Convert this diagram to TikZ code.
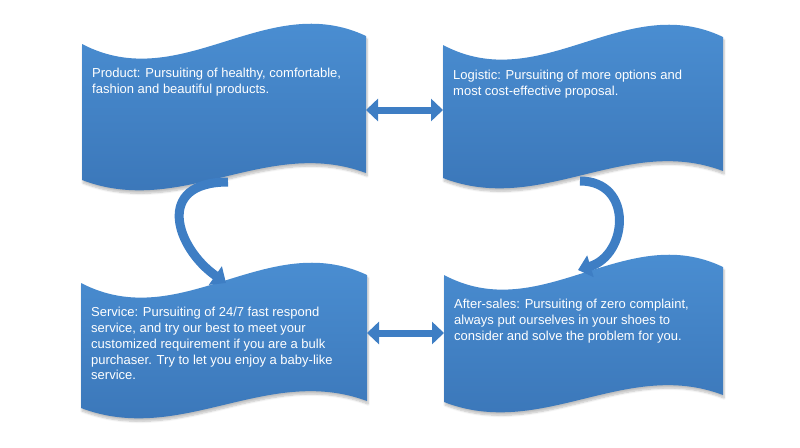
\documentclass[tikz,border=0pt]{standalone}
\usepackage{fontspec}
\setmainfont{Liberation Sans}
\usetikzlibrary{positioning,calc,arrows.meta,shadows.blur}

\definecolor{paneltop}{RGB}{77,146,214}
\definecolor{panelbottom}{RGB}{57,116,182}
\definecolor{arrowblue}{RGB}{62,126,196}

% wave outline around a (blank) panel node
\newcommand{\wavepanel}[1]{%
  \path[panelfill] (#1.north west)
    .. controls ([yshift=-52pt]$(#1.north west)!.35!(#1.north east)$) and ([yshift=55pt]$(#1.north west)!.65!(#1.north east)$) .. ([yshift=8pt]#1.north east)
    -- ([yshift=7pt]#1.south east)
    .. controls ([yshift=44pt]$(#1.south west)!.65!(#1.south east)$) and ([yshift=-38pt]$(#1.south west)!.35!(#1.south east)$) .. (#1.south west)
    -- cycle;}

\begin{document}
\begin{tikzpicture}[
    x=1pt, y=-1pt,
    panel/.style={rectangle, inner sep=0pt, outer sep=0pt},
    panelfill/.style={top color=paneltop, bottom color=panelbottom, blur shadow={shadow xshift=1pt, shadow yshift=-3pt, shadow opacity=25, shadow blur steps=6}},
    paneltext/.style={text=white, font=\fontsize{13}{15.8}\selectfont, align=left, inner sep=0pt},
    dblarrow/.style={draw=arrowblue, line width=7pt, {Triangle[width=22pt,length=12pt]}-{Triangle[width=22pt,length=12pt]}},
    arcarrow/.style={draw=arrowblue, line width=9pt, -{Triangle[width=22pt,length=13pt]}}
]
\useasboundingbox (0,0) rectangle (800,447);

% Panels
\node[panel, minimum width=284pt, minimum height=136pt] (product) at (224,112) {};
\node[panel, minimum width=280pt, minimum height=133pt] (logistic) at (583,111.5) {};
\node[panel, minimum width=286pt, minimum height=125pt] (service) at (224,345.5) {};
\node[panel, minimum width=279pt, minimum height=127pt] (aftersales) at (583.5,338.5) {};

\wavepanel{product}
\wavepanel{logistic}
\wavepanel{service}
\wavepanel{aftersales}

% Texts
\node[paneltext, below right=24pt and 10pt of product.north west] (producttext)
  {Product: Pursuiting of healthy, comfortable,\\fashion and beautiful products.};
\node[paneltext, below right=25pt and 10pt of logistic.north west] (logistictext)
  {Logistic: Pursuiting of more options and\\most cost-effective proposal.};
\node[paneltext, below right=24pt and 10pt of service.north west] (servicetext)
  {Service: Pursuiting of 24/7 fast respond\\service, and try our best to meet your\\customized requirement if you are a bulk\\purchaser. Try to let you enjoy a baby-like\\service.};
\node[paneltext, below right=24pt and 10pt of aftersales.north west] (aftersalestext)
  {After-sales: Pursuiting of zero complaint,\\always put ourselves in your shoes to\\consider and solve the problem for you.};

% Arrows
\draw[dblarrow] ([yshift=2pt]product.east) -- ([yshift=2pt]product.east -| logistic.west);
\draw[dblarrow] ([yshift=12.5pt]service.east) -- ([yshift=12.5pt]service.east -| aftersales.west);
\draw[arcarrow] ([xshift=4pt,yshift=-2pt]product.south) .. controls +(-74,0) and +(-50,-35) .. ([xshift=2pt]service.north);
\draw[arcarrow] ([xshift=-3pt,yshift=-3pt]logistic.south) .. controls +(54,0) and +(50,-15) .. ([xshift=-5.5pt,yshift=5pt]aftersales.north);

\end{tikzpicture}
\end{document}
